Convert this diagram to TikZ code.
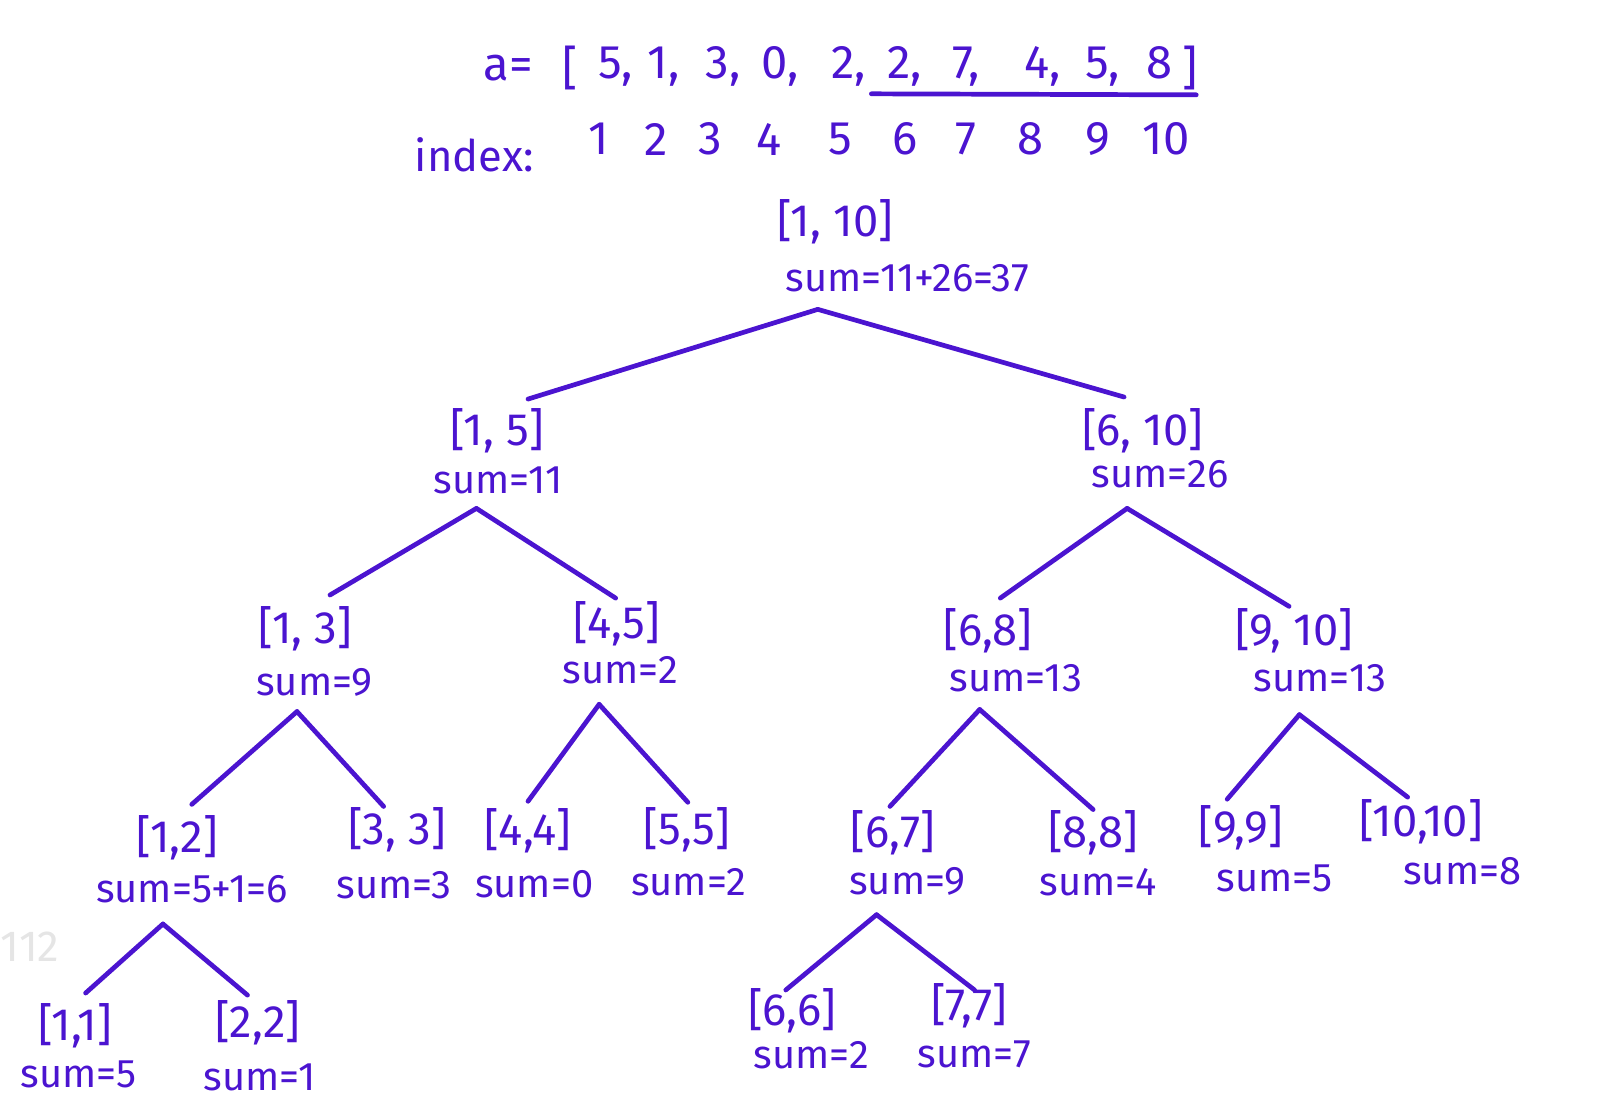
\documentclass[tikz,border=0pt]{standalone}
\usepackage{fontspec}
\setmainfont{Fira Sans}
\usetikzlibrary{calc}
\definecolor{penink}{HTML}{4B14D0}

\begin{document}
\begin{tikzpicture}[
    x=0.01cm, y=-0.01cm,
    ink/.style={text=penink, inner sep=1pt},
    toprow/.style={ink, font=\fontsize{13}{15}\selectfont},
    itv/.style={ink, font=\fontsize{12.5}{14}\selectfont},
    sumlbl/.style={ink, font=\fontsize{11}{13}\selectfont},
    edge/.style={draw=penink, line width=1.3pt, line cap=round}
]
\useasboundingbox (0,0) rectangle (1568,1074);

% Array and indices
\node[toprow] (aeq) at (493,66) {a=};
\node[toprow] (lbr) at (553,66) {[};
\foreach \v/\x [count=\i] in {5/582,1/630,3/686,0/740,2/808,2/862,7/925,4/995,5/1054} {
  \node[toprow, anchor=base west] (a\i) at (\x-6,76) {\v,};
}
\node[toprow, anchor=base west] (a10) at (1108,76) {8};
\node[toprow] (rbr) at (1154,66) {]};
\coordinate (ul-a) at (845,91);
\coordinate (ul-b) at (1160,92);
\draw[edge] (ul-a) -- (ul-b);

\node[ink, font=\fontsize{12}{14}\selectfont] (idx) at (460,150) {index:};
\foreach \x [count=\i] in {581,636,689,746,815,878,937,999,1065,1131} {
  \node[toprow] (i\i) at (\x,135) {\i};
}

% Tree: intervals and sums
\foreach \nm/\ix/\iy/\itxt/\sx/\sy/\stxt in {
    r/810/215/{[1, 10]}/880/270/{sum=11+26=37},
    v15/482/418/{[1, 5]}/483/466/{sum=11},
    v610/1108/418/{[6, 10]}/1125/460/{sum=26},
    v13/296/610/{[1, 3]}/305/662/{sum=9},
    v45/598/605/{[4,5]}/602/650/{sum=2},
    v68/958/612/{[6,8]}/985/658/{sum=13},
    v910/1255/612/{[9, 10]}/1280/658/{sum=13},
    v12/172/812/{[1,2]}/186/862/{sum=5+1=6},
    v33/385/805/{[3, 3]}/382/858/{sum=3},
    v44/512/806/{[4,4]}/518/857/{sum=0},
    v55/666/805/{[5,5]}/668/855/{sum=2},
    v67/866/808/{[6,7]}/880/855/{sum=9},
    v88/1060/808/{[8,8]}/1065/855/{sum=4},
    v99/1203/803/{[9,9]}/1236/852/{sum=5},
    v1010/1378/797/{[10,10]}/1418/845/{sum=8},
    v11/73/995/{[1,1]}/76/1042/{sum=5},
    v22/250/992/{[2,2]}/252/1045/{sum=1},
    v66/768/980/{[6,6]}/787/1023/{sum=2},
    v77/940/975/{[7,7]}/945/1022/{sum=7}} {
  \node[itv] (\nm-i) at (\ix,\iy) {\itxt};
  \node[sumlbl] (\nm-s) at (\sx,\sy) {\stxt};
}

% Edge ends
\coordinate (r-b) at (793,300);
\coordinate (v15-t) at (512,387);   \coordinate (v15-b) at (462,493);
\coordinate (v610-t) at (1090,385); \coordinate (v610-b) at (1093,493);
\coordinate (v13-t) at (320,577);   \coordinate (v13-b) at (288,690);
\coordinate (v45-t) at (597,580);   \coordinate (v45-b) at (581,683);
\coordinate (v68-t) at (970,580);   \coordinate (v68-b) at (950,688);
\coordinate (v910-t) at (1250,588); \coordinate (v910-b) at (1260,693);
\coordinate (v12-t) at (186,780);   \coordinate (v12-b) at (158,896);
\coordinate (v33-t) at (372,782);
\coordinate (v44-t) at (512,777);
\coordinate (v55-t) at (667,778);
\coordinate (v67-t) at (863,782);   \coordinate (v67-b) at (850,887);
\coordinate (v88-t) at (1060,785);
\coordinate (v99-t) at (1190,775);
\coordinate (v1010-t) at (1365,773);
\coordinate (v11-t) at (83,963);
\coordinate (v22-t) at (240,965);
\coordinate (v66-t) at (762,960);
\coordinate (v77-t) at (945,960);

% Edges
\foreach \p/\c in {r/v15, r/v610, v15/v13, v15/v45, v610/v68, v610/v910,
    v13/v12, v13/v33, v45/v44, v45/v55, v68/v67, v68/v88, v910/v99, v910/v1010,
    v12/v11, v12/v22, v67/v66, v67/v77} {
  \draw[edge] (\p-b) -- (\c-t);
}

% Watermark
\node[text=gray!20, font=\rmfamily\fontsize{12}{14}\selectfont, anchor=west, inner sep=0pt] (wm) at (0,918) {112};

\end{tikzpicture}
\end{document}
